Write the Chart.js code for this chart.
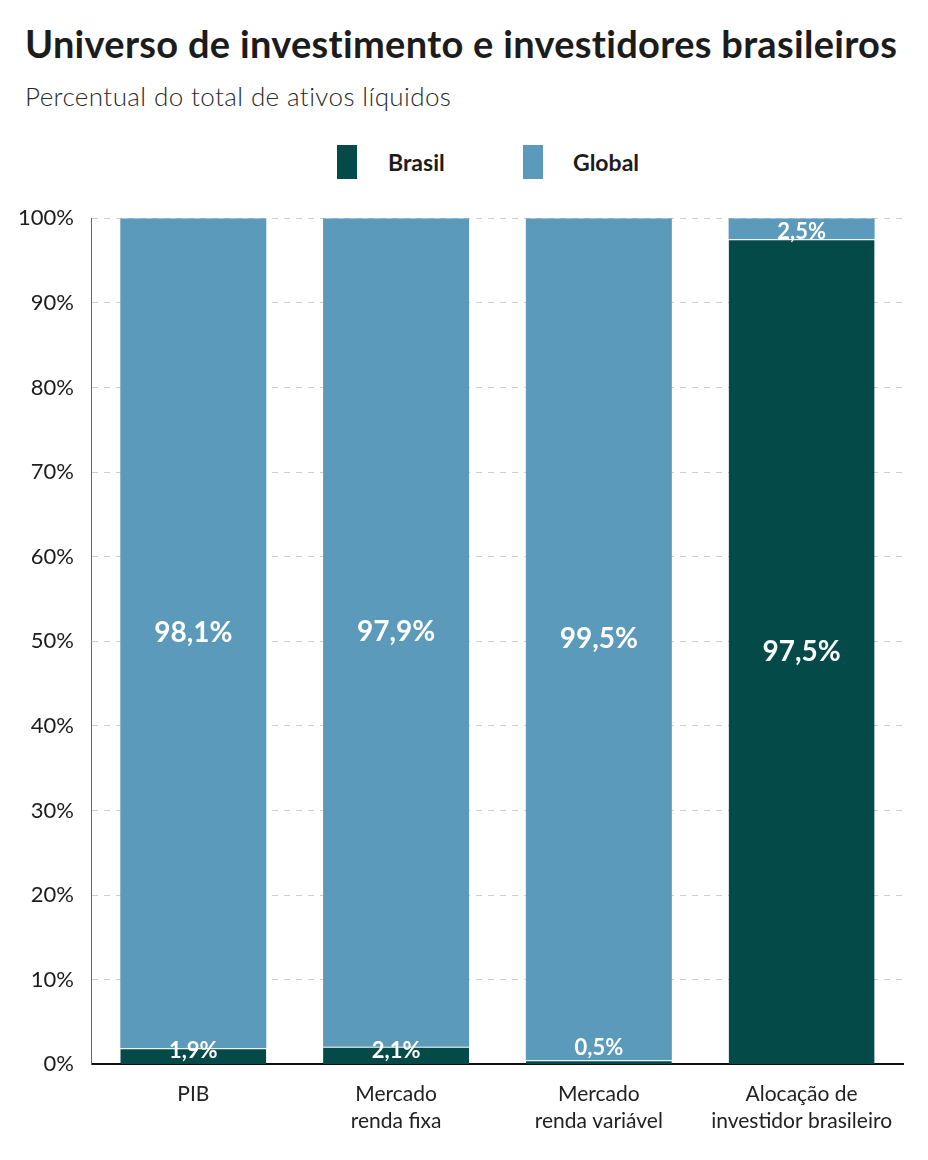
<!DOCTYPE html>
<html>
<head>
<meta charset="utf-8">
<script src="https://cdn.jsdelivr.net/npm/chart.js@4.4.0/dist/chart.umd.min.js"></script>
<style>
  body { margin: 0; background: #fff; font-family: Lato, "Noto Sans", sans-serif; }
  #wrap { position: relative; width: 928px; height: 1160px; }
  h1 { position: absolute; left: 25px; top: 20px; margin: 0; font-size: 38px; font-weight: 700; color: #1c1c1c; letter-spacing: 0.3px; }
  .sub { position: absolute; left: 25px; top: 80px; margin: 0; font-size: 26px; font-weight: 300; color: #2a2a2a; letter-spacing: 0.4px; }
  .legend { position: absolute; top: 145px; left: 0; width: 928px; height: 34px; }
  .legend span.box { position: absolute; top: 0; width: 20px; height: 34px; }
  .legend span.txt { position: absolute; top: 3px; font-size: 23px; font-weight: 700; color: #1c1c1c; }
  #box { position: absolute; left: 0; top: 187px; width: 928px; height: 973px; }
</style>
</head>
<body>
<div id="wrap">
  <h1>Universo de investimento e investidores brasileiros</h1>
  <p class="sub">Percentual do total de ativos líquidos</p>
  <div class="legend">
    <span class="box" style="left:337px;background:#034a48"></span><span class="txt" style="left:388px">Brasil</span>
    <span class="box" style="left:523px;background:#5b9aba"></span><span class="txt" style="left:573px">Global</span>
  </div>
  <div id="box"><canvas id="chart"></canvas></div>
</div>
<script>
// categorias e valores (percentual)
var categories = [["PIB"], ["Mercado", "renda fixa"], ["Mercado", "renda variável"], ["Alocação de", "investidor brasileiro"]];
var brasil = [1.9, 2.1, 0.5, 97.5];
var global = [98.1, 97.9, 99.5, 2.5];
var yTicks = [0, 10, 20, 30, 40, 50, 60, 70, 80, 90, 100];

function fmt(v) { return v.toFixed(1).replace('.', ',') + '%'; }

// rotulos brancos dentro das barras
var barLabels = {
    id: 'barLabels',
    afterDatasetsDraw: function (chart) {
        var ctx = chart.ctx;
        ctx.save();
        ctx.fillStyle = '#fff';
        ctx.textAlign = 'center';
        chart.data.datasets.forEach(function (ds, di) {
            var meta = chart.getDatasetMeta(di);
            meta.data.forEach(function (bar, i) {
                var v = ds.data[i];
                var big = v > 50;
                ctx.font = (big ? '700 28px' : '700 22px') + ' Lato, "Noto Sans", sans-serif';
                var top = Math.min(bar.y, bar.base), bot = Math.max(bar.y, bar.base);
                if (v < 1) {
                    ctx.textBaseline = 'bottom';
                    ctx.fillText(fmt(v), bar.x, top - 1);
                } else {
                    ctx.textBaseline = 'middle';
                    var y = (top + bot) / 2;
                    if (!big && di === 0) y = bot - 13;
                    if (!big && di === 1) y = top + 14;
                    ctx.fillText(fmt(v), bar.x, y);
                }
            });
        });
        ctx.restore();
    }
};

var ctx = document.getElementById('chart').getContext('2d');
var chart = new Chart(ctx, {
    type: 'bar',
    data: {
        labels: categories,
        datasets: [{
            label: 'Brasil',
            data: brasil,
            backgroundColor: '#034a48',
            borderColor: '#ffffff',
            borderWidth: { top: 1 },
            borderSkipped: 'bottom',
            categoryPercentage: 1,
            barPercentage: 0.72
        }, {
            label: 'Global',
            data: global,
            backgroundColor: '#5b9aba',
            borderWidth: 0,
            categoryPercentage: 1,
            barPercentage: 0.72
        }]
    },
    options: {
        responsive: true,
        maintainAspectRatio: false,
        animation: false,
        layout: { padding: { left: 0, right: 25, top: 31, bottom: 9 } },
        plugins: {
            legend: { display: false },
            tooltip: { enabled: false }
        },
        scales: {
            x: {
                stacked: true,
                grid: { display: false, drawTicks: false },
                border: { color: '#111', width: 2 },
                ticks: {
                    color: '#222',
                    padding: 16,
                    font: { family: 'Lato', size: 21, lineHeight: 1.3 },
                    maxRotation: 0
                }
            },
            y: {
                stacked: true,
                min: 0,
                max: 100,
                afterBuildTicks: function (axis) {
                    axis.ticks = yTicks.map(function (v) { return { value: v }; });
                },
                grid: { color: '#cfcfcf', lineWidth: 1, drawTicks: false },
                border: { color: '#666', width: 1, dash: [6, 6] },
                ticks: {
                    color: '#1c1c1c',
                    padding: 18,
                    font: { family: 'Lato', size: 22 },
                    callback: function (v) { return v + '%'; }
                }
            }
        }
    },
    plugins: [barLabels]
});
</script>
</body>
</html>
